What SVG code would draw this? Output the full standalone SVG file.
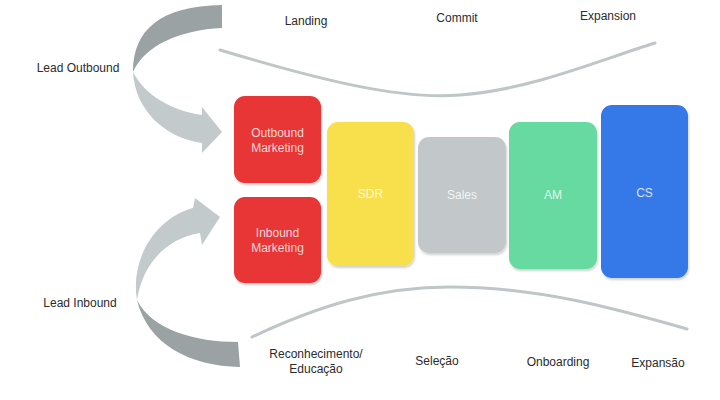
<svg xmlns="http://www.w3.org/2000/svg" width="720" height="400" viewBox="0 0 720 400">
<defs>
<style>
.lbl{font-family:"Liberation Sans",Arial,sans-serif;font-size:12px;fill:#2b2b2b;text-anchor:middle}
.bt{font-family:"Liberation Sans",Arial,sans-serif;font-size:12px;fill:#ffffff;fill-opacity:0.82;text-anchor:middle}
.curve{fill:none;stroke:#BFC6C7;stroke-width:3;stroke-linecap:round}
.dark{fill:#9AA2A4}
.light{fill:#C2CACB}
</style>
<filter id="sh" x="-10%" y="-10%" width="130%" height="130%">
<feDropShadow dx="1" dy="2" stdDeviation="1.2" flood-color="#000" flood-opacity="0.18"/>
</filter>
</defs>
<rect width="720" height="400" fill="#ffffff"/>

<g id="curves">
<path class="curve" d="M220,50 C320,80 400,100 460,95 C530,90 600,60 655,43"/>
<path class="curve" d="M252,337 C320,305 380,287 450,287 C540,287 620,310 687,329"/>
</g>

<g id="connectors">
<g id="arrow-outbound">
<path class="dark" d="M222,5 C160,6 133,30 133,72 C145,45 180,30 222,28 Z"/>
<path class="light" d="M133,72 C135,110 165,138 202,143 L202,153 L222,132 L202,107 L202,115 C170,110 145,95 133,72 Z"/>
</g>
<g id="arrow-inbound">
<path class="light" d="M137,300 C130,260 155,218 193,208 L195,198 L220,217 L202,245 L200,233 C168,238 143,262 137,300 Z"/>
<path class="dark" d="M137,300 C148,345 190,366 240,367 L238,342 C195,342 152,330 137,300 Z"/>
</g>
</g>

<g id="lead-outbound"><text class="lbl" x="78" y="72">Lead Outbound</text></g>
<g id="lead-inbound"><text class="lbl" x="80" y="307">Lead Inbound</text></g>

<g id="top-labels">
<text class="lbl" x="306" y="25">Landing</text>
<text class="lbl" x="457" y="22">Commit</text>
<text class="lbl" x="608" y="20">Expansion</text>
</g>
<g id="bottom-labels">
<text class="lbl" x="316" y="358">Reconhecimento/</text>
<text class="lbl" x="316" y="373">Educação</text>
<text class="lbl" x="437" y="365">Seleção</text>
<text class="lbl" x="558" y="366">Onboarding</text>
<text class="lbl" x="658" y="367">Expansão</text>
</g>

<g id="outbound-marketing">
<rect x="234" y="96" width="87" height="87" rx="11" fill="#E83434" filter="url(#sh)"/>
<text class="bt" x="277.5" y="137">Outbound</text>
<text class="bt" x="277.5" y="152">Marketing</text>
</g>
<g id="inbound-marketing">
<rect x="234" y="197" width="87" height="86" rx="11" fill="#E83434" filter="url(#sh)"/>
<text class="bt" x="277.5" y="237">Inbound</text>
<text class="bt" x="277.5" y="252">Marketing</text>
</g>
<g id="sdr">
<rect x="327" y="122" width="87" height="144" rx="11" fill="#F7E04B" filter="url(#sh)"/>
<text class="bt" x="370.5" y="198">SDR</text>
</g>
<g id="sales">
<rect x="418" y="137" width="88" height="116" rx="11" fill="#C2C8C9" filter="url(#sh)"/>
<text class="bt" x="462" y="199">Sales</text>
</g>
<g id="am">
<rect x="509" y="122" width="88" height="147" rx="11" fill="#66DAA0" filter="url(#sh)"/>
<text class="bt" x="553" y="199">AM</text>
</g>
<g id="cs">
<rect x="601" y="105" width="87" height="173" rx="11" fill="#3478E8" filter="url(#sh)"/>
<text class="bt" x="644.5" y="197">CS</text>
</g>
</svg>
